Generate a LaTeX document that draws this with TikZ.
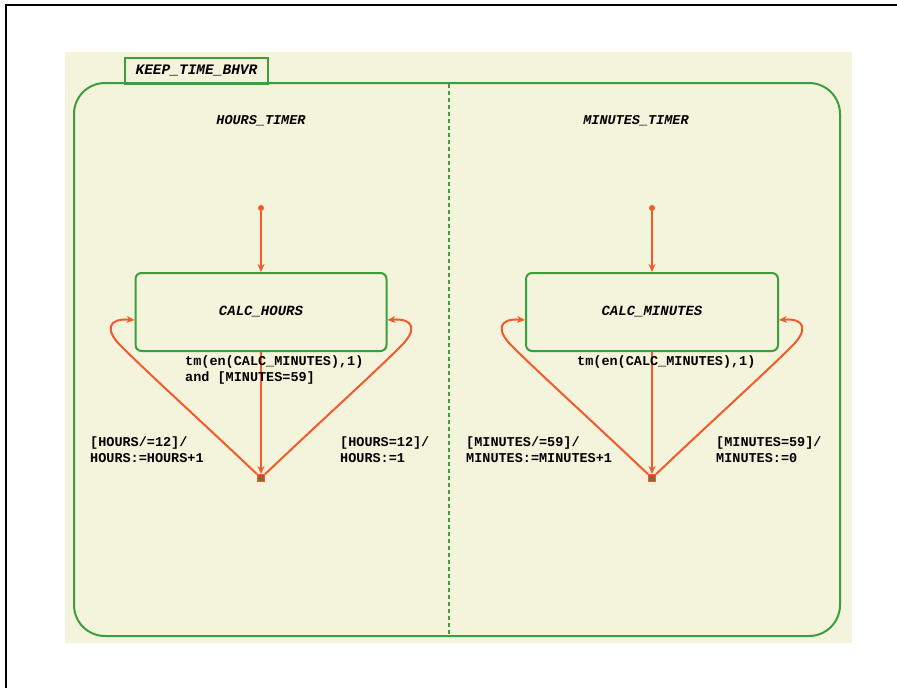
\documentclass[tikz,border=0pt]{standalone}
\usepackage{fontspec}
\setmonofont{Liberation Mono}
\usetikzlibrary{arrows.meta,calc}
\definecolor{chartbg}{HTML}{F4F4DC}
\definecolor{stategreen}{HTML}{3C9E3C}
\definecolor{transred}{HTML}{F25A2A}
\definecolor{junctfill}{HTML}{A85A34}
\begin{document}
\begin{tikzpicture}[x=1pt,y=-1pt,
  statebox/.style={draw=stategreen,line width=2pt,rounded corners=6pt,
    minimum width=251pt,minimum height=78pt,inner sep=0pt,
    font=\ttfamily\bfseries\itshape\fontsize{14}{16}\selectfont},
  titletext/.style={font=\ttfamily\bfseries\itshape\fontsize{13.5}{15}\selectfont,inner sep=0pt},
  guard/.style={font=\ttfamily\bfseries\fontsize{13.5}{16}\selectfont,align=left,inner sep=0pt,anchor=west},
  trans/.style={draw=transred,line width=2pt,-{Stealth[length=8pt,width=7pt]}},
  initdot/.style={circle,fill=transred,inner sep=0pt,minimum size=6pt},
  junct/.style={rectangle,draw=transred,fill=junctfill,line width=1pt,inner sep=0pt,minimum size=7pt}]
\useasboundingbox (0,0) rectangle (897,688);
% page frame
\draw[line width=2.2pt] (6,688) -- (6,5) -- (897,5);
% chart canvas
\fill[chartbg] (65,52) rectangle (852,643);
% superstate with its name tab
\node[draw=stategreen,line width=2pt,minimum width=143pt,minimum height=26pt,inner sep=0pt,
  anchor=north west,font=\ttfamily\bfseries\itshape\fontsize{14.5}{16}\selectfont] (tab) at (124,57) {KEEP\_TIME\_BHVR};
\draw[stategreen,line width=2pt,rounded corners=31pt] (74,83) rectangle (840,636);
% parallel decomposition line
\draw[stategreen,line width=2.2pt,dash pattern=on 4pt off 3pt] (449,84) -- (449,635);
% region titles
\node[titletext] (ht) at (261,121) {HOURS\_TIMER};
\node[titletext] (mt) at (636,121) {MINUTES\_TIMER};
% states
\node[statebox] (hours) at (261,312) {CALC\_HOURS};
\node[statebox,minimum width=252pt] (minutes) at (652,312) {CALC\_MINUTES};
% default transitions
\node[initdot] (hi) at (261,208) {};
\node[initdot] (mi) at (652,208) {};
\draw[trans] (hi) -- (hours.north);
\draw[trans] (mi) -- (minutes.north);
% junctions
\node[junct] (hj) at (261,478) {};
\node[junct] (mj) at (652,478) {};
\draw[trans] (hours.south) -- (hj);
\draw[trans] (minutes.south) -- (mj);
% looping transitions back into the states
\draw[trans] (hj) .. controls (200,420) and (150,375) .. (122,347) .. controls (104,330) and (108,318) .. ($(hours.west)+(0,8)$);
\draw[trans] (hj) .. controls (322,420) and (372,375) .. (400,347) .. controls (418,330) and (414,318) .. ($(hours.east)+(0,8)$);
\draw[trans] (mj) .. controls (591,420) and (541,375) .. (513,347) .. controls (495,330) and (499,318) .. ($(minutes.west)+(0,8)$);
\draw[trans] (mj) .. controls (713,420) and (763,375) .. (791,347) .. controls (809,330) and (805,318) .. ($(minutes.east)+(0,8)$);
% transition labels
\node[guard] (hl1) at (185,370) {tm(en(CALC\_MINUTES),1)\\and [MINUTES=59]};
\node[guard] (hl2) at (90,450) {[HOURS/=12]/\\HOURS:=HOURS+1};
\node[guard] (hl3) at (340,450) {[HOURS=12]/\\HOURS:=1};
\node[guard] (ml1) at (577,362) {tm(en(CALC\_MINUTES),1)};
\node[guard] (ml2) at (466,450) {[MINUTES/=59]/\\MINUTES:=MINUTES+1};
\node[guard] (ml3) at (716,450) {[MINUTES=59]/\\MINUTES:=0};
\end{tikzpicture}
\end{document}
